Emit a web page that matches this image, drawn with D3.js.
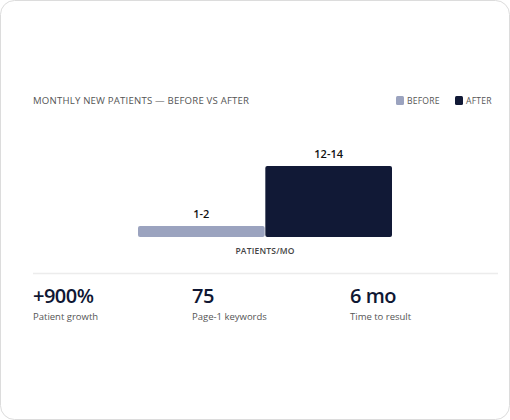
<!DOCTYPE html><html><head><meta charset="utf-8"><script src="https://cdn.jsdelivr.net/npm/d3@7"></script>
<style>body{margin:0;background:#fff}</style></head><body><svg id="c" width="510" height="420"></svg>
<script>
const categories=["BEFORE","AFTER"];
const values=[2,13];
const valueLabels=["1-2","12-14"];
const colors=["#9ba3bf","#111936"];
const statValues=["+900%","75","6 mo"];
const statLabels=["Patient growth","Page-1 keywords","Time to result"];
const F="'Open Sans',sans-serif";
const svg=d3.select("#c");
svg.append("rect").attr("x",0.5).attr("y",0.5).attr("width",509).attr("height",419).attr("rx",14).attr("fill","#fff").attr("stroke","#dcdcdc");
svg.append("text").attr("x",33).attr("y",104).text("MONTHLY NEW PATIENTS — BEFORE VS AFTER").attr("font-family",F).attr("font-size",9.6).attr("fill","#555").attr("letter-spacing",0.2);
const lx=[396,455];
categories.forEach((c,i)=>{svg.append("rect").attr("x",lx[i]).attr("y",96).attr("width",8).attr("height",9).attr("rx",1.5).attr("fill",colors[i]);
svg.append("text").attr("x",lx[i]+11).attr("y",104).text(c).attr("font-family",F).attr("font-size",8.6).attr("fill","#555").attr("letter-spacing",0.2);});
const x=d3.scaleBand().domain(categories).range([138,392]).paddingInner(0.005);
const y=d3.scaleLinear().domain([0,13]).range([237,166]);
const g=svg.append("g");
g.selectAll("rect").data(values).join("rect").attr("x",(d,i)=>x(categories[i])).attr("y",d=>y(d)).attr("width",x.bandwidth()).attr("height",d=>237-y(d)).attr("rx",2).attr("fill",(d,i)=>colors[i]);
g.selectAll("text").data(values).join("text").attr("x",(d,i)=>x(categories[i])+x.bandwidth()/2).attr("y",d=>y(d)-8).attr("text-anchor","middle").text((d,i)=>valueLabels[i]).attr("font-family",F).attr("font-size",11).attr("font-weight",600).attr("fill","#111");
svg.append("text").attr("x",265).attr("y",254).attr("text-anchor","middle").text("PATIENTS/MO").attr("font-family",F).attr("font-size",8.5).attr("font-weight",600).attr("fill","#444").attr("letter-spacing",0.2);
svg.append("line").attr("x1",33).attr("x2",498).attr("y1",273.5).attr("y2",273.5).attr("stroke","#ececec").attr("stroke-width",1.5);
const sx=[33,192,350];
statValues.forEach((v,i)=>{svg.append("text").attr("x",sx[i]).attr("y",303).text(v).attr("font-family",F).attr("font-size",20).attr("font-weight",600).attr("fill","#0f1733").attr("letter-spacing",-0.5);
svg.append("text").attr("x",sx[i]).attr("y",320).text(statLabels[i]).attr("font-family",F).attr("font-size",9.5).attr("fill","#555");});
</script></body></html>
